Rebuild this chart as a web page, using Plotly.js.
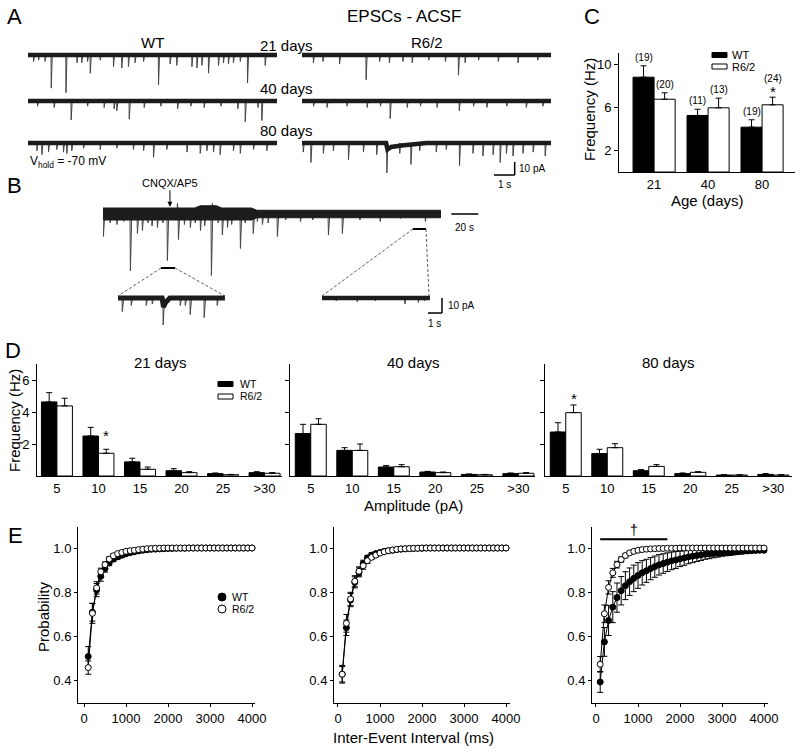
<!DOCTYPE html>
<html><head><meta charset="utf-8">
<script src="https://cdn.plot.ly/plotly-3.0.1.min.js"></script>
<style>html,body{margin:0;padding:0;background:#fff;}#chart{width:800px;height:752px;}</style>
</head><body><div id="chart"></div>
<script>
// ================= DATA =================
// Panel C: mean sEPSC frequency (Hz) by age
const cAges = ['21', '40', '80'];
const cWT = [8.82, 5.26, 4.17];
const cWTerr = [1.06, 0.58, 0.69];
const cR62 = [6.77, 5.97, 6.25];
const cR62err = [0.60, 0.90, 0.71];
const cWTn = ['(19)', '(11)', '(19)'];
const cR62n = ['(20)', '(13)', '(24)'];
const cR62sig = ['', '', '*'];

// Panel D: amplitude distribution (Hz) per bin
const dBins = ['5', '10', '15', '20', '25', '>30'];
const d21WT = [4.63, 2.50, 0.88, 0.33, 0.15, 0.21];
const d21WTerr = [0.58, 0.54, 0.23, 0.13, 0.04, 0.06];
const d21R = [4.38, 1.42, 0.42, 0.21, 0.08, 0.17];
const d21Rerr = [0.48, 0.25, 0.14, 0.06, 0.02, 0.04];
const d21Rsig = ['', '*', '', '', '', ''];
const d40WT = [2.65, 1.60, 0.56, 0.25, 0.10, 0.15];
const d40WTerr = [0.58, 0.17, 0.09, 0.04, 0.025, 0.04];
const d40R = [3.23, 1.60, 0.58, 0.21, 0.08, 0.17];
const d40Rerr = [0.35, 0.40, 0.13, 0.04, 0.02, 0.04];
const d40Rsig = ['', '', '', '', '', ''];
const d80WT = [2.75, 1.40, 0.33, 0.15, 0.06, 0.10];
const d80WTerr = [0.58, 0.27, 0.07, 0.04, 0.02, 0.05];
const d80R = [3.96, 1.77, 0.60, 0.23, 0.06, 0.06];
const d80Rerr = [0.48, 0.25, 0.11, 0.04, 0.02, 0.02];
const d80Rsig = ['*', '', '', '', '', ''];
const dTitles = ['21 days', '40 days', '80 days'];

// Panel E: cumulative probability of inter-event interval (ms)
const eX = [100,200,300,400,500,600,700,800,900,1000,1100,1200,1300,1400,1500,1600,1700,1800,1900,2000,
            2100,2200,2300,2400,2500,2600,2700,2800,2900,3000,3100,3200,3300,3400,3500,3600,3700,3800,3900,4000];
const e21WT = [0.51,0.71,0.81,0.872,0.907,0.933,0.95,0.96,0.967,0.974,0.979,0.983,0.987,0.99,0.992,0.994,0.995,0.996,0.997,0.998,
               0.998,0.999,0.999,0.999,1.0,1.0,1.0,1.0,1.0,1.0,1.0,1.0,1.0,1.0,1.0,1.0,1.0,1.0,1.0,1.0];
const e21WTerr = [0.045,0.04,0.03,0.022,0.016,0.013,0.011,0.01,0.009,0.008,0.007,0.006,0.005,0.004,0.004,0.003,0.003,0.002,0.002,0.002,
                  0.001,0.001,0.001,0.001,0,0,0,0,0,0,0,0,0,0,0,0,0,0,0,0];
const e21R = [0.46,0.705,0.82,0.893,0.925,0.95,0.965,0.975,0.98,0.985,0.988,0.99,0.993,0.995,0.997,0.998,0.999,0.999,1.0,1.0,
              1.0,1.0,1.0,1.0,1.0,1.0,1.0,1.0,1.0,1.0,1.0,1.0,1.0,1.0,1.0,1.0,1.0,1.0,1.0,1.0];
const e21Rerr = [0.03,0.045,0.028,0.016,0.012,0.01,0.008,0.006,0.005,0.004,0.003,0.003,0.002,0.002,0.001,0.001,0,0,0,0,
                 0,0,0,0,0,0,0,0,0,0,0,0,0,0,0,0,0,0,0,0];
const e40WT = [0.43,0.64,0.765,0.845,0.89,0.93,0.955,0.968,0.975,0.98,0.985,0.988,0.99,0.993,0.995,0.996,0.997,0.998,0.999,0.999,
               1.0,1.0,1.0,1.0,1.0,1.0,1.0,1.0,1.0,1.0,1.0,1.0,1.0,1.0,1.0,1.0,1.0,1.0,1.0,1.0];
const e40WTerr = [0.04,0.035,0.03,0.025,0.02,0.015,0.012,0.01,0.008,0.007,0.006,0.005,0.004,0.003,0.003,0.002,0.002,0.001,0.001,0.001,
                  0,0,0,0,0,0,0,0,0,0,0,0,0,0,0,0,0,0,0,0];
const e40R = [0.43,0.66,0.77,0.85,0.895,0.92,0.943,0.958,0.968,0.977,0.983,0.988,0.991,0.994,0.996,0.997,0.998,0.999,0.999,1.0,
              1.0,1.0,1.0,1.0,1.0,1.0,1.0,1.0,1.0,1.0,1.0,1.0,1.0,1.0,1.0,1.0,1.0,1.0,1.0,1.0];
const e40Rerr = [0.035,0.04,0.03,0.025,0.02,0.016,0.013,0.01,0.008,0.006,0.005,0.004,0.003,0.003,0.002,0.002,0.001,0.001,0.001,0,
                 0,0,0,0,0,0,0,0,0,0,0,0,0,0,0,0,0,0,0,0];
const e80WT = [0.395,0.576,0.673,0.733,0.776,0.807,0.83,0.848,0.863,0.876,0.888,0.897,0.907,0.916,0.924,0.93,0.936,0.942,0.946,0.951,
               0.955,0.96,0.963,0.966,0.969,0.972,0.973,0.975,0.976,0.978,0.979,0.98,0.982,0.984,0.985,0.987,0.988,0.989,0.99,0.99];
const e80WTerr = [0.047,0.065,0.068,0.07,0.066,0.064,0.063,0.062,0.06,0.058,0.055,0.052,0.05,0.048,0.046,0.044,0.042,0.04,0.038,0.035,
                  0.033,0.031,0.029,0.027,0.025,0.023,0.021,0.019,0.017,0.015,0.014,0.013,0.012,0.011,0.01,0.009,0.009,0.008,0.008,0.008];
const e80R = [0.475,0.703,0.822,0.888,0.925,0.948,0.966,0.978,0.985,0.99,0.993,0.995,0.996,0.997,0.998,0.998,0.999,0.999,0.999,1.0,
              1.0,1.0,1.0,1.0,1.0,1.0,1.0,1.0,1.0,1.0,1.0,1.0,1.0,1.0,1.0,1.0,1.0,1.0,1.0,1.0];
const e80Rerr = [0.035,0.04,0.03,0.02,0.015,0.012,0.01,0.008,0.006,0.005,0.004,0.003,0.003,0.002,0.002,0.001,0.001,0.001,0.001,0,
                 0,0,0,0,0,0,0,0,0,0,0,0,0,0,0,0,0,0,0,0];
const eSigRange = [100, 1700];   // ms, significance bar in 80-day panel

// Panel A: example traces, event times (s) and amplitudes (pA)
const aWT21T = [0.26,0.5,0.81,1.11,1.82,2.35,2.58,2.86,2.99,3.47,4.11,4.51,4.83,5.15,5.56,6.28,6.84,7.16,7.89,8.13,8.37,8.69,9.17,9.41,9.65,9.89,10.22,10.57,11.42];
const aWT21A = [5,4,5,25.5,29,6,6,5,14,4,9,10,9,6,5,23,7,8,9,10,8,14,8,6,7,6,5,21.5,8];
const aWT40T = [0.45,1.25,2.07,2.86,3.66,4.14,4.27,4.87,5.59,6.39,7.2,7.84,8.48,9.29,10.1,10.46,11.07,11.26];
const aWT40A = [4,5,14.5,4,5,6,7.5,14,5,4,6,4,5,4,6,16,5,15];
const aWT80T = [0.42,0.66,0.98,1.38,1.7,1.86,2.1,2.67,3.47,4.27,5.07,5.56,6.04,6.68,7.65,8.29,8.61,8.93,9.25,9.89,10.22,10.86,11.5];
const aWT80A = [6,9,7,5,7,8,6,4,5,4,5,6,11,5,7,8,6,7,9,6,8,5,6];
const aR21T = [0.54,1.0,1.8,3.08,3.73,4.2,4.85,5.3,6.1,6.9,7.53,7.85,8.5,9.45,10.4,11.35];
const aR21A = [6,5,7,19,5,6,5,6,4,5,15.5,6,4,5,6,4];
const aR40T = [0.55,1.2,2.16,3.13,3.77,4.24,5.06,5.7,6.5,7.57,8.26,8.9,9.86,10.8,11.6];
const aR40A = [4,5,4,5,4,13.5,5,4,5,7.5,4,5,4,5,4];
const aR80T = [0.05,0.42,1.02,1.5,2.23,2.95,3.59,4.08,4.7,5.24,5.66,6.46,6.94,7.58,8.23,8.71,9.2,9.54,9.84,10.16,10.64,11.13,11.71];
const aR80A = [7,15,8,6,13,7,9,23,8,16.5,6,7,5,17.5,8,10,9,15,8,10,8,7,10];
const aR80DriftT = [0, 4.05, 4.12, 4.3, 4.8, 5.5, 6.0, 12];
const aR80DriftY = [0, 0, -5, -3, -2, -1, 0, 0];
const aDuration = 12;          // s per trace

// Panel B: long recording with CNQX/AP5 application
const bT = [0,5,10,15,20,25.2,28.9,33,36,40,44,47.4,55.6,60,64.4,68,71.9,75,80,85,88.1,91.9,95,101.5,105,111,114,117.8,122,128.9,135,146,155,166.7,177,190,205,220,238.5,54.8,80.7];
const bA = [15,6,7,5,38,13,11,6,8,9,6,31,17,7,9,6,11,8,41,6,14,9,7,23,6,13,5,7,6,15,4,5,4,14,13,4,5,3,5,-7,-7];
const bBandT = [0, 68, 72, 84, 88, 110, 114, 250];
const bBandUp = [4, 4, 5.5, 5.5, 4, 4, 2.5, 2.5];
const bBandLo = [-4, -4, -4, -4, -4, -4, -2.5, -2.5];
const bDuration = 250;         // s
const bDrugTime = 49.6;        // s
const bZoom1 = [43, 53.3];     // s, segment shown in inset 1
const bZoom2 = [229.6, 239.3]; // s, segment shown in inset 2
const bIn1T = [0.29,0.93,2.0,2.43,3.21,4.43,4.79,5.14,6.14,7.07];
const bIn1A = [9,5,5,4,18,5,5,11,13,5];
const bIn1DriftT = [0, 3.15, 3.25, 3.4, 3.7, 7.64];
const bIn1DriftY = [0, 0, -6, -3, 0, 0];
const bIn2T = [1.0,2.5,3.8,5.9,6.86,7.3];
const bIn2A = [2,2.5,2,4,3,2];
const bInDuration = [7.64, 7.71];

// ================= BUILD =================
const W = 800, H = 752;
const FONT = 'Liberation Sans, Arial, Helvetica, sans-serif';
const px = v => v / W, py = v => 1 - v / H;
const xd = (a, b) => [a / W, b / W];
const yd = (top, bottom) => [1 - bottom / H, 1 - top / H];

const layout = {
  width: W, height: H, margin: {l: 0, r: 0, t: 0, b: 0}, autosize: false,
  paper_bgcolor: '#fff', plot_bgcolor: 'rgba(0,0,0,0)', showlegend: false,
  font: {family: FONT, color: '#000', size: 13}, barmode: 'overlay',
  annotations: [], shapes: []
};
const traces = [];
const ann = layout.annotations, shp = layout.shapes;

function setAxes(n, xa, ya) {
  const s = n === 1 ? '' : String(n);
  layout['xaxis' + s] = Object.assign({anchor: 'y' + s, fixedrange: true}, xa);
  layout['yaxis' + s] = Object.assign({anchor: 'x' + s, fixedrange: true}, ya);
  return {xaxis: 'x' + s, yaxis: 'y' + s};
}
function vis(extra) {
  return Object.assign({showgrid: false, zeroline: false, showline: true, linecolor: '#000', linewidth: 1,
    ticks: 'outside', ticklen: 4, tickwidth: 1, tickcolor: '#000', tickfont: {size: 13, color: '#000', family: FONT}}, extra);
}
function hid(extra) { return Object.assign({visible: false}, extra); }
function txt(text, x, y, size, opts) {
  return Object.assign({xref: 'paper', yref: 'paper', x: px(x), y: py(y), text: text, showarrow: false,
    font: {size: size, color: '#000', family: FONT}, xanchor: 'center', yanchor: 'middle'}, opts || {});
}
function zeros(a) { return a.map(() => 0); }

// ---------- Panel C ----------
const cBarW = 0.39;
const axC = setAxes(1,
  vis({domain: xd(619, 795), range: [-0.65, 2.61], tickvals: [0, 1, 2], ticktext: cAges, ticks: ''}),
  vis({domain: yd(53, 172), range: [0, 11.07], tickvals: [2, 6, 10]}));
const cIdx = cAges.map((a, i) => i);
function barTrace(ax, x, y, err, fill, w, off) {
  return Object.assign({type: 'bar', x: x, y: y, width: w, offset: off,
    marker: {color: fill, line: {color: '#000', width: 1}},
    error_y: {type: 'data', symmetric: false, array: err, arrayminus: zeros(err), color: '#000', thickness: 1, width: 3}}, ax);
}
traces.push(barTrace(axC, cIdx, cWT, cWTerr, '#000', cBarW, -cBarW));
traces.push(barTrace(axC, cIdx, cR62, cR62err, '#fff', cBarW, 0));
cIdx.forEach(i => {
  ann.push({xref: 'x', yref: 'y', x: i - cBarW / 2, y: cWT[i] + cWTerr[i], text: cWTn[i], showarrow: false,
    yanchor: 'bottom', yshift: 1, font: {size: 10}});
  const sig = cR62sig[i] !== '';
  if (sig) ann.push({xref: 'x', yref: 'y', x: i + cBarW / 2, y: cR62[i] + cR62err[i], text: cR62sig[i], showarrow: false,
    yanchor: 'bottom', yshift: -5, font: {size: 15}});
  ann.push({xref: 'x', yref: 'y', x: i + cBarW / 2, y: cR62[i] + cR62err[i], text: cR62n[i], showarrow: false,
    yanchor: 'bottom', yshift: sig ? 11 : 1, font: {size: 10}});
});
ann.push(txt('Frequency (Hz)', 589, 110, 15, {textangle: -90}));
ann.push(txt('Age (days)', 707, 200, 15));
// legend C
shp.push({type: 'rect', xref: 'paper', yref: 'paper', x0: px(712), x1: px(727), y0: py(52.5), y1: py(57.5), fillcolor: '#000', line: {color: '#000', width: 1}});
shp.push({type: 'rect', xref: 'paper', yref: 'paper', x0: px(712), x1: px(727), y0: py(64), y1: py(69), fillcolor: '#fff', line: {color: '#000', width: 1}});
ann.push(txt('WT', 730, 55, 11, {xanchor: 'left'}));
ann.push(txt('R6/2', 730, 67, 11, {xanchor: 'left'}));

// ---------- Panel D ----------
const dBarW = 0.373;
const dIdx = dBins.map((b, i) => i);
const dSets = [
  {n: 2, dom: [37, 282], rng: [-0.48, 5.42], wt: d21WT, wte: d21WTerr, r: d21R, re: d21Rerr, sig: d21Rsig, cx: 160, sy: 3},
  {n: 3, dom: [290, 535], rng: [-0.5, 5.4], wt: d40WT, wte: d40WTerr, r: d40R, re: d40Rerr, sig: d40Rsig, cx: 413, sy: 0},
  {n: 4, dom: [545, 792], rng: [-0.5, 5.45], wt: d80WT, wte: d80WTerr, r: d80R, re: d80Rerr, sig: d80Rsig, cx: 668, sy: -4}
];
dSets.forEach((s, k) => {
  const ax = setAxes(s.n,
    vis({domain: xd(s.dom[0], s.dom[1]), range: s.rng, tickvals: dIdx, ticktext: dBins, ticks: ''}),
    vis({domain: yd(364, 476), range: [0, 7], tickvals: [2, 4, 6], showticklabels: k === 0}));
  traces.push(barTrace(ax, dIdx, s.wt, s.wte, '#000', dBarW, -dBarW));
  traces.push(barTrace(ax, dIdx, s.r, s.re, '#fff', dBarW, 0));
  dIdx.forEach(i => {
    if (s.sig[i]) ann.push({xref: ax.xaxis, yref: ax.yaxis, x: i + dBarW / 2, y: s.r[i] + s.re[i], text: s.sig[i],
      showarrow: false, yanchor: 'bottom', yshift: s.sy, font: {size: 15}});
  });
  ann.push(txt(dTitles[k], s.cx, 362, 15));
});
ann.push(txt('Frequency (Hz)', 14, 421, 15, {textangle: -90}));
ann.push(txt('Amplitude (pA)', 413, 505, 15));
shp.push({type: 'rect', xref: 'paper', yref: 'paper', x0: px(218), x1: px(233), y0: py(381.5), y1: py(386.5), fillcolor: '#000', line: {color: '#000', width: 1}});
shp.push({type: 'rect', xref: 'paper', yref: 'paper', x0: px(218), x1: px(233), y0: py(394), y1: py(399), fillcolor: '#fff', line: {color: '#000', width: 1}});
ann.push(txt('WT', 238, 384, 10.5, {xanchor: 'left'}));
ann.push(txt('R6/2', 238, 396.5, 10.5, {xanchor: 'left'}));

// ---------- Panel E ----------
const eSets = [
  {n: 5, dom: [78, 255], rng: [-143, 4071], wt: e21WT, wte: e21WTerr, r: e21R, re: e21Rerr},
  {n: 6, dom: [334, 510], rng: [-95, 4095], wt: e40WT, wte: e40WTerr, r: e40R, re: e40Rerr},
  {n: 7, dom: [592, 768], rng: [-95, 4095], wt: e80WT, wte: e80WTerr, r: e80R, re: e80Rerr}
];
eSets.forEach(s => {
  const ax = setAxes(s.n,
    vis({domain: xd(s.dom[0], s.dom[1]), range: s.rng, tickvals: [0, 1000, 2000, 3000, 4000], ticklen: 3}),
    vis({domain: yd(527, 703), range: [0.3, 1.095], tickvals: [0.4, 0.6, 0.8, 1.0], ticktext: ['0.4', '0.6', '0.8', '1.0'], ticklen: 3}));
  traces.push(Object.assign({type: 'scatter', mode: 'lines+markers', x: eX, y: s.wt,
    line: {color: '#000', width: 1}, marker: {symbol: 'circle', size: 6, color: '#000', line: {color: '#000', width: 1}},
    error_y: {type: 'data', array: s.wte, color: '#000', thickness: 1, width: 3}, cliponaxis: false}, ax));
  traces.push(Object.assign({type: 'scatter', mode: 'lines+markers', x: eX, y: s.r,
    line: {color: '#000', width: 1}, marker: {symbol: 'circle', size: 6, color: '#fff', line: {color: '#000', width: 1}},
    error_y: {type: 'data', array: s.re, color: '#000', thickness: 1, width: 3}, cliponaxis: false}, ax));
  if (s.n === 7) {
    shp.push({type: 'line', xref: ax.xaxis, yref: ax.yaxis, x0: eSigRange[0], x1: eSigRange[1], y0: 1.04, y1: 1.04, line: {color: '#000', width: 2}});
    ann.push({xref: ax.xaxis, yref: ax.yaxis, x: (eSigRange[0] + eSigRange[1]) / 2, y: 1.04, text: '†', showarrow: false,
      yanchor: 'bottom', yshift: -1, font: {size: 14}});
  }
});
ann.push(txt('Probability', 43, 617, 15, {textangle: -90}));
ann.push(txt('Inter-Event Interval (ms)', 413, 737, 15));
shp.push({type: 'circle', xref: 'paper', yref: 'paper', x0: px(218), x1: px(226), y0: py(593), y1: py(601), fillcolor: '#000', line: {color: '#000', width: 1}});
shp.push({type: 'circle', xref: 'paper', yref: 'paper', x0: px(218), x1: px(226), y0: py(605), y1: py(613), fillcolor: '#fff', line: {color: '#000', width: 1}});
ann.push(txt('WT', 230, 597, 10.5, {xanchor: 'left'}));
ann.push(txt('R6/2', 230, 609, 10.5, {xanchor: 'left'}));

// ---------- trace helpers ----------
function spikeLine(times, amps, rise, decay, ax, color) {
  const x = [], y = [];
  times.forEach((t, i) => { x.push(t, t + rise, t + decay, null); y.push(0, -amps[i], 0, null); });
  return Object.assign({type: 'scatter', mode: 'lines', x: x, y: y, line: {color: color || '#454545', width: 1}, hoverinfo: 'skip'}, ax);
}
function bandLine(x, y, width, ax) {
  return Object.assign({type: 'scatter', mode: 'lines', x: x, y: y, line: {color: '#1c1c1c', width: width}, hoverinfo: 'skip'}, ax);
}

// ---------- Panel A ----------
const A_PXS = 20.75, A_PXPA = 1.3;   // px per s, px per pA
const aRows = [
  {n: 8, x0: 28, base: 55, t: aWT21T, a: aWT21A},
  {n: 9, x0: 28, base: 101, t: aWT40T, a: aWT40A},
  {n: 10, x0: 28, base: 143, t: aWT80T, a: aWT80A},
  {n: 11, x0: 302, base: 55, t: aR21T, a: aR21A},
  {n: 12, x0: 302, base: 101, t: aR40T, a: aR40A},
  {n: 13, x0: 302, base: 143, t: aR80T, a: aR80A, driftT: aR80DriftT, driftY: aR80DriftY}
];
let axR80 = null;
aRows.forEach(r => {
  const ax = setAxes(r.n, hid({domain: xd(r.x0, r.x0 + aDuration * A_PXS), range: [0, aDuration]}),
    hid({domain: yd(r.base - 8 * A_PXPA, r.base + 35 * A_PXPA), range: [-35, 8]}));
  if (r.n === 13) axR80 = ax;
  traces.push(spikeLine(r.t, r.a, 0.01, 0.06, ax));
  traces.push(bandLine(r.driftT || [0, aDuration], r.driftY || [0, 0], 4.5, ax));
});
// scale bar A (1 s, 10 pA)
shp.push({type: 'line', xref: axR80.xaxis, yref: axR80.yaxis, x0: 9.25, x1: 10.25, y0: -24.6, y1: -24.6, line: {color: '#000', width: 1.5}});
shp.push({type: 'line', xref: axR80.xaxis, yref: axR80.yaxis, x0: 10.25, x1: 10.25, y0: -24.6, y1: -14.6, line: {color: '#000', width: 1.5}});
ann.push({xref: axR80.xaxis, yref: axR80.yaxis, x: 10.25, y: -19.6, text: '10 pA', showarrow: false, xanchor: 'left', xshift: 2, font: {size: 10}});
ann.push({xref: axR80.xaxis, yref: axR80.yaxis, x: 9.75, y: -24.6, text: '1 s', showarrow: false, yanchor: 'top', yshift: -2, font: {size: 10}});

ann.push(txt('A', 14, 16, 22));
ann.push(txt('EPSCs - ACSF', 404, 16, 17));
ann.push(txt('WT', 152, 43, 15));
ann.push(txt('R6/2', 427, 43, 15));
ann.push(txt('21 days', 286, 45, 15));
ann.push(txt('40 days', 286, 89, 15));
ann.push(txt('80 days', 286, 131, 15));
ann.push(txt('V<sub>hold</sub> = -70 mV', 28, 162, 12, {xanchor: 'left'}));

// ---------- Panel B ----------
const B_PXS = 1.35, B_PXPA = 1.5;
const axB = setAxes(14, hid({domain: xd(103, 103 + 280 * B_PXS), range: [0, 280]}),
  hid({domain: yd(214 - 12 * B_PXPA, 214 + 45 * B_PXPA), range: [-45, 12]}));
traces.push(spikeLine(bT, bA, 0.3, 1.3, axB));
traces.push(Object.assign({type: 'scatter', mode: 'lines', x: bBandT.concat(bBandT.slice().reverse()),
  y: bBandUp.concat(bBandLo.slice().reverse()), fill: 'toself', fillcolor: '#1c1c1c', line: {color: '#1c1c1c', width: 1}, hoverinfo: 'skip'}, axB));
// 20 s scale bar
shp.push({type: 'line', xref: axB.xaxis, yref: axB.yaxis, x0: 258, x1: 278, y0: 0, y1: 0, line: {color: '#000', width: 1.5}});
ann.push({xref: axB.xaxis, yref: axB.yaxis, x: 268, y: -9, text: '20 s', showarrow: false, font: {size: 10}});
// drug application arrow
ann.push({xref: axB.xaxis, yref: axB.yaxis, x: bDrugTime, y: 4.8, text: 'CNQX/AP5', showarrow: true, arrowhead: 2,
  arrowsize: 1, arrowwidth: 1, arrowcolor: '#000', ax: 0, ay: -24, font: {size: 11}});
// zoom markers
shp.push({type: 'line', xref: axB.xaxis, yref: axB.yaxis, x0: bZoom1[0], x1: bZoom1[1], y0: -36, y1: -36, line: {color: '#000', width: 2}});
shp.push({type: 'line', xref: axB.xaxis, yref: axB.yaxis, x0: bZoom2[0], x1: bZoom2[1], y0: -10, y1: -10, line: {color: '#000', width: 2}});
// insets
const IN_PXS = 14;
const in1 = setAxes(15, hid({domain: xd(118, 118 + bInDuration[0] * IN_PXS), range: [0, bInDuration[0]]}),
  hid({domain: yd(298 - 6 * B_PXPA, 298 + 25 * B_PXPA), range: [-25, 6]}));
traces.push(spikeLine(bIn1T, bIn1A, 0.015, 0.12, in1));
traces.push(bandLine(bIn1DriftT, bIn1DriftY, 5, in1));
const in2 = setAxes(16, hid({domain: xd(322, 322 + 8.71 * IN_PXS), range: [0, 8.71]}),
  hid({domain: yd(298 - 6 * B_PXPA, 298 + 25 * B_PXPA), range: [-25, 6]}));
traces.push(spikeLine(bIn2T, bIn2A, 0.015, 0.1, in2));
traces.push(bandLine([0, bInDuration[1]], [0, 0], 4.5, in2));
shp.push({type: 'line', xref: in2.xaxis, yref: in2.yaxis, x0: 7.57, x1: 8.57, y0: -10, y1: -10, line: {color: '#000', width: 1.5}});
shp.push({type: 'line', xref: in2.xaxis, yref: in2.yaxis, x0: 8.57, x1: 8.57, y0: -10, y1: 0, line: {color: '#000', width: 1.5}});
ann.push({xref: in2.xaxis, yref: in2.yaxis, x: 8.57, y: -5, text: '10 pA', showarrow: false, xanchor: 'left', xshift: 4, font: {size: 10}});
ann.push({xref: in2.xaxis, yref: in2.yaxis, x: 8.07, y: -10, text: '1 s', showarrow: false, yanchor: 'top', yshift: -3, font: {size: 10}});
// dashed connectors
[[161, 268, 118, 296], [175, 268, 225, 296], [413, 229, 322, 296], [426, 229, 429, 296]].forEach(c => {
  shp.push({type: 'line', xref: 'paper', yref: 'paper', x0: px(c[0]), y0: py(c[1]), x1: px(c[2]), y1: py(c[3]),
    line: {color: '#333', width: 0.8, dash: '3px,2px'}});
});
ann.push(txt('B', 14, 185, 22));
ann.push(txt('C', 592, 16, 22));
ann.push(txt('D', 13, 350, 22));
ann.push(txt('E', 15, 535, 22));

Plotly.newPlot('chart', traces, layout, {staticPlot: true, displayModeBar: false});
</script></body></html>
